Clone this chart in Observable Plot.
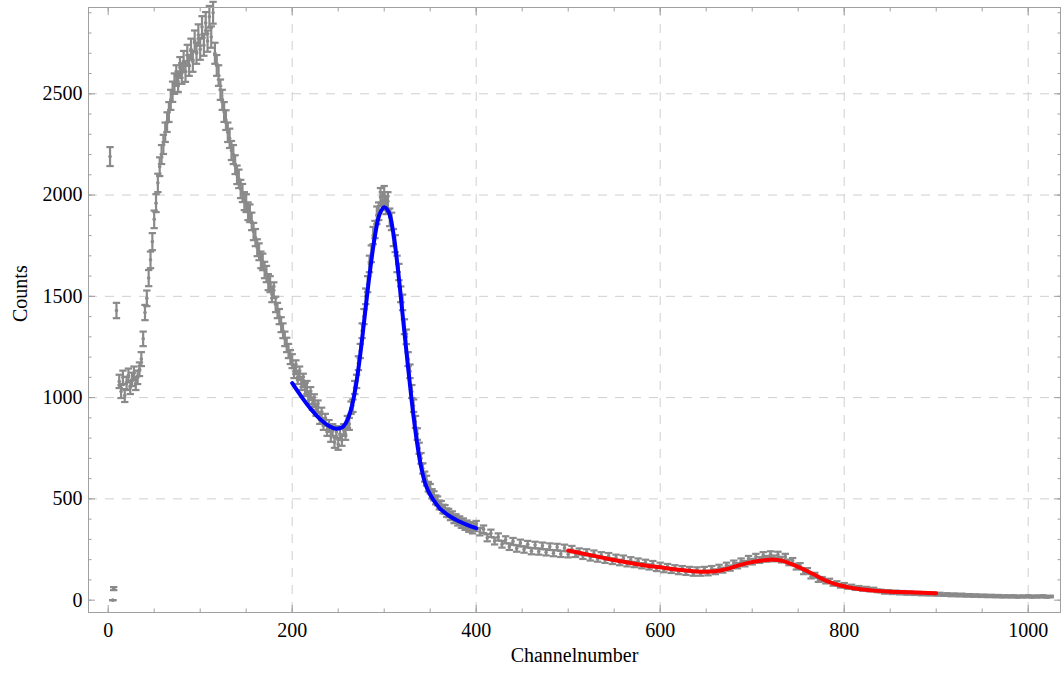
<!DOCTYPE html>
<html><head><meta charset="utf-8">
<script src="https://cdn.jsdelivr.net/npm/d3@7"></script>
<script src="https://cdn.jsdelivr.net/npm/@observablehq/plot@0.6"></script>
<style>body{margin:0;background:#fff} #chart svg{display:block}</style>
</head><body><div id="chart"></div>
<script>
// ---- measured spectrum (channel number, counts) ----
const chanA = [2, 5, 6, 9];
const cntA  = [2190, 0, 57, 1430];
const chanB = [12,14,16,18,20,22,24,26,28,30,32,34,
  36,38,40,42,44,46,48,50,52,54,56,58,60,62,64,66,68,70,72,74,76,78,80,82,84,86,88,90,92,94,96,98,
  100,102,104,106,108,110,112,114,116,118,120,122,124,126,128,130,132,134,136,138,140,142,144,146,148,
  150,152,154,156,158,160,162,164,166,168,170,172,174,176,178,180,182,184,186,188,190,192,194,196,198];
const cntB  = [1080,1030,1100,1010,1070,1110,1050,1090,1120,1070,1100,1140,
  1190,1290,1420,1490,1590,1680,1770,1880,1960,2060,2140,2200,2250,2310,2360,2410,2470,2510,2550,2590,2560,2630,2600,2660,2610,2690,2640,2720,2660,2760,2700,2790,
  2720,2830,2740,2850,2760,2880,2780,2900,2700,2640,2590,2520,2470,2410,2370,2310,2280,2220,2200,2150,2100,2080,2030,2010,1970,
  1960,1920,1910,1870,1820,1790,1740,1720,1680,1670,1630,1610,1570,1560,1510,1530,1460,1430,1400,1360,1330,1290,1260,1230,1200];
const chanC = [200,202,204,206,208,210,212,214,216,218, 220,222,224,226,228,230,232,234,236,238,
  240,242,244,246,248,250,252,254,256,258, 260,262,264,266,268,270,272,274,276,278,
  280,282,284,286,288,290,292,294,296,298, 300,302,304,306,308,310,312,314,316,318,
  320,322,324,326,328,330,332,334,336,338, 340,342,344,346,348,350,352,354,356,358,
  360,362,364,366,368,370,372,374,376,378, 380,382,384,386,388,390,392,394,396,398];
const cntC  = [1180,1130,1150,1100,1120,1070,1085,1040,1050,1000, 1020,970,985,940,955,900,920,870,890,840,
  860,810,840,780,830,770,820,790,840,820, 880,870,950,960,1050,1080,1170,1230,1330,1400,
  1500,1560,1660,1710,1800,1830,1900,1920,1990,1970, 2000,1950,1970,1890,1870,1790,1760,1660,1620,1510,
  1470,1350,1300,1190,1130,1030,960,880,820,750, 700,650,610,590,560,550,525,515,495,490,
  470,468,450,448,432,430,415,418,400,404, 388,394,376,384,366,374,356,366,348,360];
const chanD = [400,404,408,412,416,420,424,428,432,436, 440,444,448,452,456,460,464,468,472,476,
  480,484,488,492,496,500,504,508,512,516, 520,524,528,532,536,540,544,548,552,556,
  560,564,568,572,576,580,584,588,592,596, 600,604,608,612,616,620,624,628,632,636,
  640,644,648,652,656,660,664,668,672,676, 680,684,688,692,696,700,704,708,712,716,
  720,724,728,732,736,740,744,748,752,756, 760,764,768,772,776,780,784,788,792,796,
  800,804,808,812,816,820,824,828,832,836, 840,844,848,852,856,860,864,868,872,876,
  880,884,888,892,896,900,904,908,912,916, 920,924,928,932,936,940,944,948,952,956,
  960,964,968,972,976,980,984,988,992,996, 1000,1004,1008,1012,1016,1020,1024];
const cntD  = [372,338,350,308,330,292,312,276,298,264, 290,255,282,250,276,242,272,240,268,236,
  264,232,262,228,258,226,252,228,240,218, 236,210,230,204,222,198,218,192,210,186,
  206,180,198,176,192,170,186,164,180,156, 172,150,166,146,160,140,156,136,152,132,
  150,132,152,134,156,140,162,148,172,158, 182,170,192,180,204,190,214,198,222,204,
  226,206,224,200,214,186,194,164,170,140, 146,118,124,100,104,92,96,80,84,70,
  76,64,68,58,62,54,58,50,54,46, 45,38,43,36,41,34,39,32,37,31,
  35,29,34,28,32,27,31,26,29,24, 28,23,27,22,25,21,24,20,23,19,
  22,18,21,17,20,17,20,16,19,17, 20,16,19,17,20,16,18];

// ---- fitted curves ----
const blueFitX = [200,210,220,230,240,248,255,260,265,270,275,280,285,290,295,300,305,310,315,320,325,330,335,340,345,350,355,360,365,370,380,390,400];
const blueFitY = [1071,1005,945,895,860,846,855,890,960,1080,1250,1450,1640,1800,1905,1940,1915,1810,1630,1410,1190,980,800,660,570,520,485,455,435,418,392,372,355];
const redFitX = [500,520,540,560,580,600,620,640,655,665,675,690,705,715,723,732,742,751,760,770,778,787,796,805,814,823,832,850,868,885,900];
const redFitY = [245,226,207,190,174,162,150,142,141,146,157,178,192,198,200,195,179,162,143,120,100,84,72,63,56,51,47,42,39,36,34];

// ---- ticks / grid ----
const xTicks = [0,200,400,600,800,1000];
const yTicks = [0,500,1000,1500,2000,2500];
const xGrid = [200,400,600,800,1000];
const yGrid = [500,1000,1500,2000,2500];
const xMinor = [0,50,100,150,200,250,300,350,400,450,500,550,600,650,700,750,800,850,900,950,1000];
const yMinor = [0,100,200,300,400,500,600,700,800,900,1000,1100,1200,1300,1400,1500,1600,1700,1800,1900,2000,2100,2200,2300,2400,2500,2600,2700,2800,2900];

const channel = [...chanA, ...chanB, ...chanC, ...chanD];
const counts = [...cntA, ...cntB, ...cntC, ...cntD];
const data = channel.map((c, i) => ({x: c, y: counts[i], e: Math.sqrt(counts[i])}));
const blueFit = blueFitX.map((x, i) => ({x, y: blueFitY[i]}));
const redFit = redFitX.map((x, i) => ({x, y: redFitY[i]}));

const gray = "#8a8a8a";
const frameCol = "#a0a0a0";
const gridStyle = {stroke: "#cfcfcf", strokeDasharray: "9,8", strokeWidth: 1};
const cap = 4;
const sw = 2.2;
const tickOpts = (anchor, size) => ({anchor, tickSize: size, tickFormat: () => "", label: null, stroke: frameCol});

const chart = Plot.plot({
  width: 1062,
  height: 673,
  marginLeft: 88,
  marginRight: 2,
  marginTop: 7,
  marginBottom: 61,
  style: {fontFamily: "'Liberation Serif', 'Times New Roman', serif", fontSize: "20px", background: "#fff", color: "#000"},
  x: {domain: [-21.4, 1035.1]},
  y: {domain: [-61, 2926]},
  marks: [
    Plot.ruleX(xGrid, gridStyle),
    Plot.ruleY(yGrid, gridStyle),
    Plot.ruleX(data, {x: "x", y1: d => d.y - d.e, y2: d => d.y + d.e, stroke: gray, strokeWidth: sw}),
    Plot.link(data, {x1: d => d.x - cap, x2: d => d.x + cap, y1: d => d.y + d.e, y2: d => d.y + d.e, stroke: gray, strokeWidth: sw}),
    Plot.link(data, {x1: d => d.x - cap, x2: d => d.x + cap, y1: d => d.y - d.e, y2: d => d.y - d.e, stroke: gray, strokeWidth: sw}),
    Plot.dot(data, {x: "x", y: "y", r: 1.8, fill: gray}),
    Plot.line(blueFit, {x: "x", y: "y", curve: "catmull-rom", stroke: "#0000ff", strokeWidth: 4}),
    Plot.line(redFit, {x: "x", y: "y", curve: "catmull-rom", stroke: "#ff0000", strokeWidth: 4}),
    Plot.frame({stroke: frameCol}),
    // inward ticks on all four sides
    Plot.axisX(xMinor, tickOpts("bottom", -3.5)),
    Plot.axisX(xMinor, tickOpts("top", -3.5)),
    Plot.axisY(yMinor, tickOpts("left", -3.5)),
    Plot.axisY(yMinor, tickOpts("right", -3.5)),
    Plot.axisX(xTicks, tickOpts("bottom", -7)),
    Plot.axisX(xTicks, tickOpts("top", -7)),
    Plot.axisY(yTicks, tickOpts("left", -7)),
    Plot.axisY(yTicks, tickOpts("right", -7)),
    // labels
    Plot.axisX(xTicks, {anchor: "bottom", tickSize: 0, tickPadding: 10, tickFormat: d => String(d), label: null, fill: "#000"}),
    Plot.axisY(yTicks, {anchor: "left", tickSize: 0, tickPadding: 6, tickFormat: d => String(d), label: null, fill: "#000"}),
    Plot.text(["Channelnumber"], {frameAnchor: "bottom", dy: 49, text: d => d, fill: "#000"}),
    Plot.text(["Counts"], {frameAnchor: "left", dx: -68, dy: 12, rotate: -90, text: d => d, fill: "#000"})
  ]
});
document.getElementById("chart").appendChild(chart);
</script>
</body></html>
